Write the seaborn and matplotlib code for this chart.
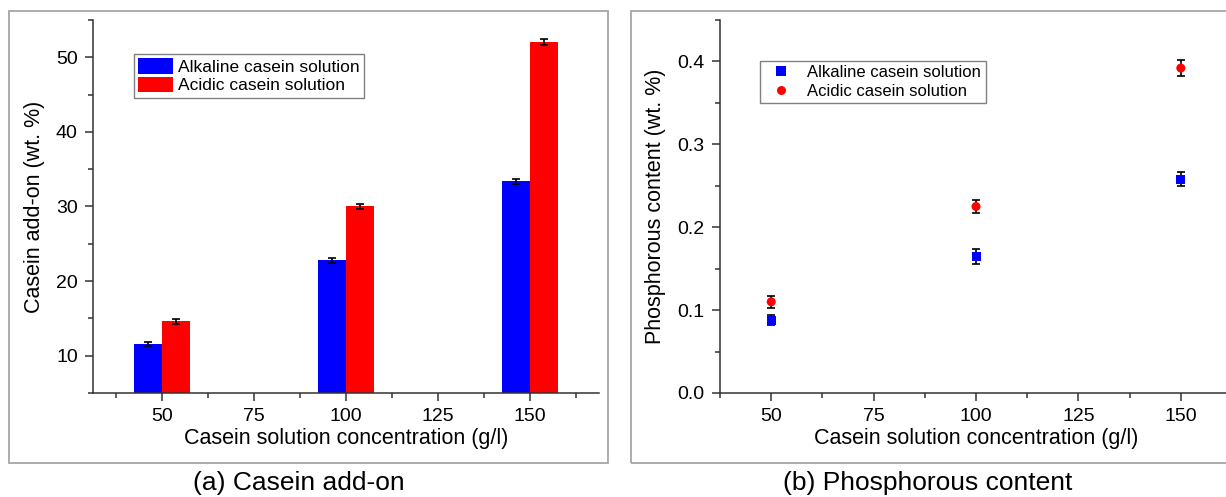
import numpy as np
import pandas as pd
import seaborn as sns
import matplotlib.pyplot as plt
from matplotlib.patches import Rectangle
from matplotlib.ticker import MultipleLocator, FormatStrFormatter

sns.set_style('ticks')
plt.rcParams['font.family'] = ['Liberation Sans', 'DejaVu Sans']
plt.rcParams['text.color'] = 'black'
plt.rcParams['axes.labelcolor'] = 'black'

# data
conc = [50, 100, 150]
series = ['Alkaline casein solution', 'Acidic casein solution']

addon_alk = [11.6, 22.8, 33.4]
addon_alk_err = [0.3, 0.35, 0.35]
addon_acid = [14.6, 30.0, 52.0]
addon_acid_err = [0.3, 0.35, 0.4]

phos_alk = [0.088, 0.165, 0.258]
phos_alk_err = [0.006, 0.009, 0.008]
phos_acid = [0.110, 0.225, 0.392]
phos_acid_err = [0.007, 0.008, 0.010]

colors = {series[0]: '#0000ff', series[1]: '#ff0000'}

df_a = pd.DataFrame({'conc': conc * 2,
                     'val': addon_alk + addon_acid,
                     'kind': [series[0]] * 3 + [series[1]] * 3})
df_b = pd.DataFrame({'conc': conc * 2,
                     'val': phos_alk + phos_acid,
                     'kind': [series[0]] * 3 + [series[1]] * 3})

fig = plt.figure(figsize=(12.26, 4.97), dpi=100)
ax1 = fig.add_axes([0.0759, 0.2093, 0.4127, 0.7505])
ax2 = fig.add_axes([0.5873, 0.2093, 0.4176, 0.7505])

# panel frames
for x0, w in [(9, 599), (631, 620)]:
    fig.add_artist(Rectangle((x0 / 1226, 34 / 497), w / 1226, 452 / 497,
                             transform=fig.transFigure, fill=False,
                             edgecolor='#a6a6a6', linewidth=1.3))

# (a) bars
sns.barplot(data=df_a, x='conc', y='val', hue='kind', native_scale=True,
            width=0.3, palette=colors, saturation=1, linewidth=0,
            errorbar=None, ax=ax1)
for cont, errs in zip(ax1.containers, [addon_alk_err, addon_acid_err]):
    xs = [p.get_x() + p.get_width() / 2 for p in cont]
    ys = [p.get_height() for p in cont]
    ax1.errorbar(xs, ys, yerr=errs, fmt='none', ecolor='black',
                 elinewidth=1.2, capsize=3, capthick=1.2)
ax1.set_xlim(31.25, 168.75)
ax1.set_ylim(5, 55)
ax1.set_ylabel('Casein add-on (wt. %)')

# (b) points
sns.scatterplot(data=df_b, x='conc', y='val', hue='kind', style='kind',
                markers={series[0]: 's', series[1]: 'o'}, palette=colors,
                s=42, linewidth=0, ax=ax2, zorder=3)
ax2.errorbar(conc, phos_alk, yerr=phos_alk_err, fmt='none', ecolor='black',
             elinewidth=1.2, capsize=3, capthick=1.2)
ax2.errorbar(conc, phos_acid, yerr=phos_acid_err, fmt='none', ecolor='black',
             elinewidth=1.2, capsize=3, capthick=1.2)
ax2.set_xlim(37.5, 162.5)
ax2.set_ylim(0, 0.45)
ax2.yaxis.set_major_formatter(FormatStrFormatter('%.1f'))
ax2.set_ylabel('Phosphorous content (wt. %)')

for ax, ymaj, ymin in [(ax1, 10, 5), (ax2, 0.1, 0.05)]:
    sns.despine(ax=ax)
    ax.set_xlabel('Casein solution concentration (g/l)')
    ax.xaxis.label.set_size(15.5)
    ax.yaxis.label.set_size(15.5)
    ax.set_xticks([50, 75, 100, 125, 150])
    ax.xaxis.set_minor_locator(MultipleLocator(12.5))
    ax.yaxis.set_major_locator(MultipleLocator(ymaj))
    ax.yaxis.set_minor_locator(MultipleLocator(ymin))
    ax.tick_params(which='major', length=6, width=1.1, labelsize=14,
                   color='#333333', labelcolor='black', pad=5)
    ax.tick_params(which='minor', length=3.5, width=1.1, color='#333333')
    for s in ['left', 'bottom']:
        ax.spines[s].set_linewidth(1.1)
        ax.spines[s].set_color('#333333')
    ax.xaxis.labelpad = 2

ax1.yaxis.labelpad = 8
ax2.yaxis.labelpad = 8

sns.move_legend(ax1, 'upper left', bbox_to_anchor=(0.081, 0.909), title=None,
                frameon=True, fontsize=12.5, borderaxespad=0, fancybox=False,
                handlelength=2.0, handleheight=1.0, labelspacing=0.1,
                handletextpad=0.3, borderpad=0.25, edgecolor='#808080')
sns.move_legend(ax2, 'upper left', bbox_to_anchor=(0.078, 0.89), title=None,
                frameon=True, fontsize=12, borderaxespad=0, fancybox=False,
                handletextpad=0.6, labelspacing=0.2, borderpad=0.25,
                edgecolor='#808080')
for ax in [ax1, ax2]:
    leg = ax.get_legend()
    leg.get_frame().set_linewidth(1.0)
    leg.get_frame().set_alpha(1)

fig.text(299 / 1226, 0.028, '(a) Casein add-on', ha='center', va='center',
         fontsize=19)
fig.text(928 / 1226, 0.028, '(b) Phosphorous content', ha='center',
         va='center', fontsize=19)

fig.savefig('out.png', dpi=100, facecolor='white')
